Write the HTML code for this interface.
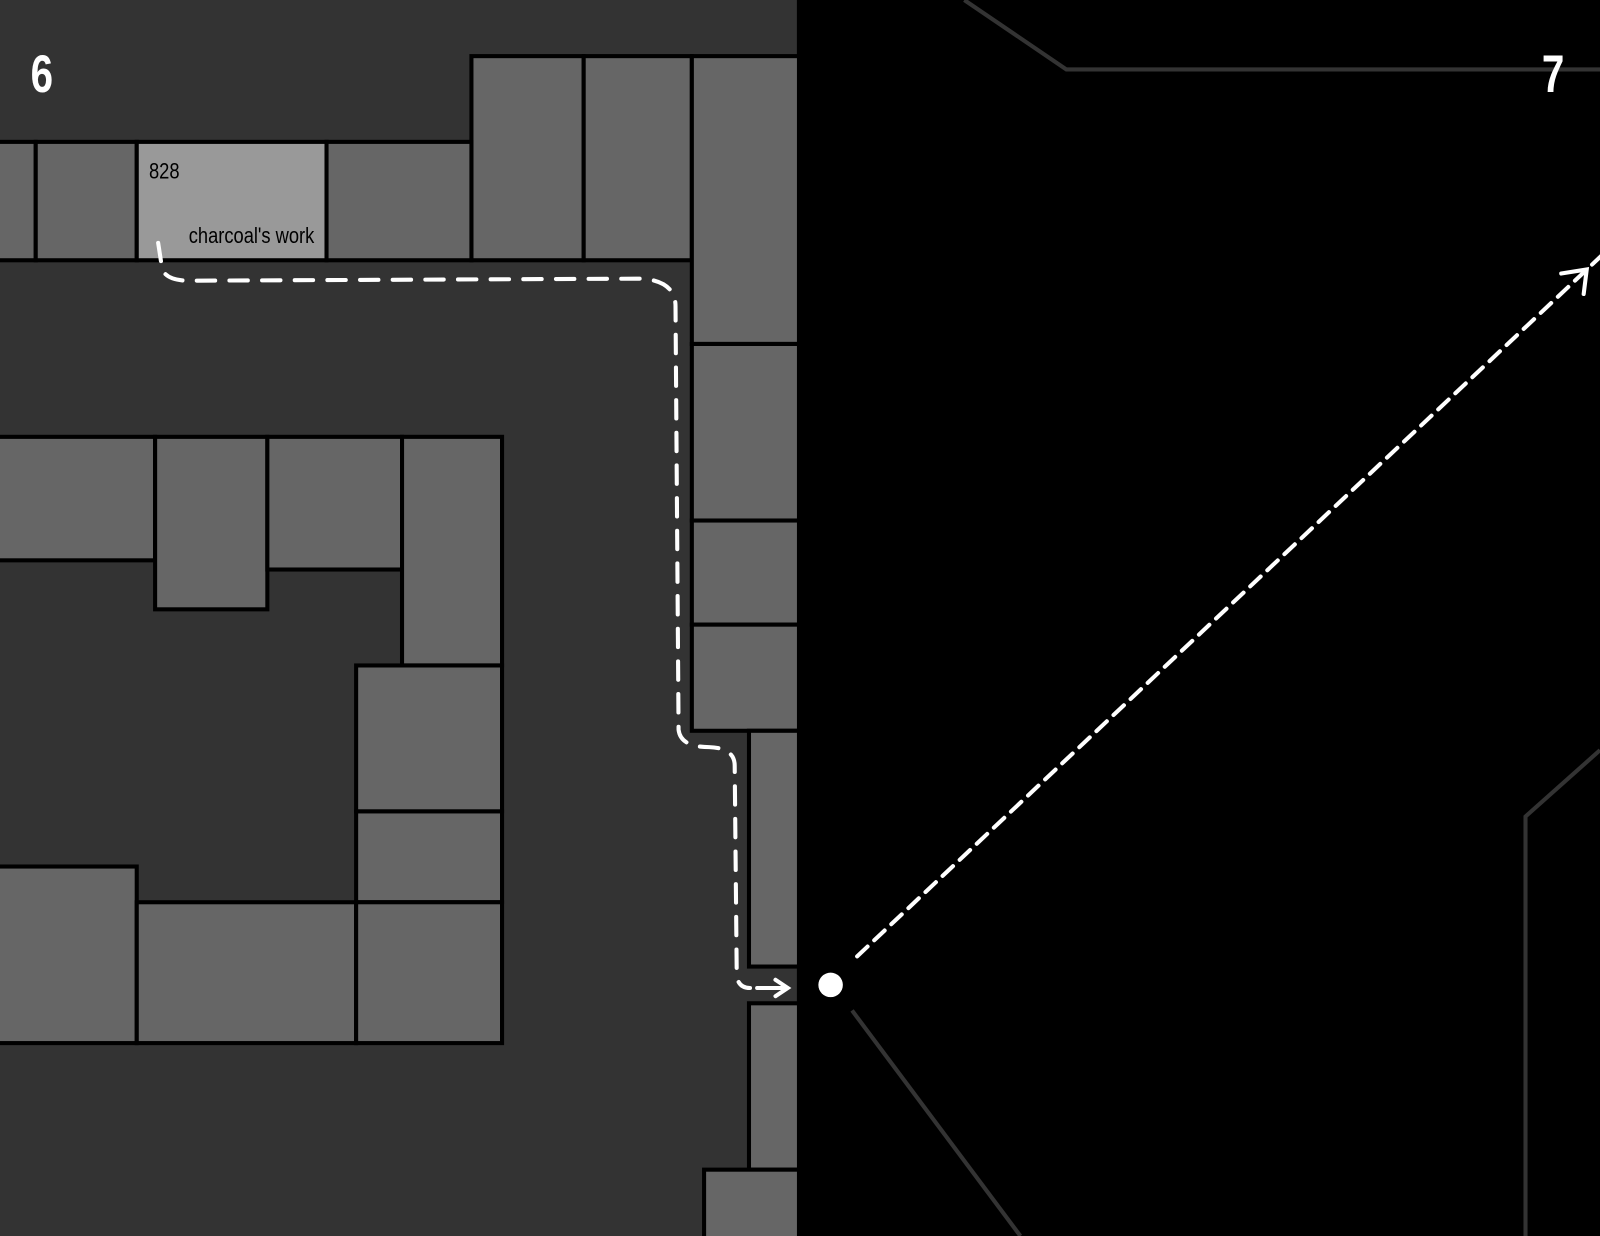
<!DOCTYPE html>
<html><head><meta charset="utf-8"><style>
html,body{margin:0;padding:0;background:#000;}
svg{display:block;}
</style></head><body>
<svg width="1600" height="1236" viewBox="0 0 1568 1211" preserveAspectRatio="none" xmlns="http://www.w3.org/2000/svg">
<rect x="0" y="0" width="1568" height="1211" fill="#000"/>
<rect x="0" y="0" width="781" height="1211" fill="#333"/>
<g fill="#666" stroke="#000" stroke-width="4">
<rect x="462" y="55" width="110" height="200"/>
<rect x="572" y="55" width="106" height="200"/>
<rect x="678" y="55" width="106" height="282"/>
<rect x="678" y="337" width="106" height="173"/>
<rect x="678" y="510" width="106" height="102"/>
<rect x="678" y="612" width="106" height="104"/>
<rect x="734" y="716" width="50" height="231"/>
<rect x="734" y="983" width="50" height="163"/>
<rect x="690" y="1146" width="94" height="70"/>
<rect x="-5" y="139" width="40" height="116"/>
<rect x="35" y="139" width="99" height="116"/>
<rect x="134" y="139" width="186" height="116" fill="#999"/>
<rect x="320" y="139" width="142" height="116"/>
<rect x="-5" y="428" width="157" height="121"/>
<rect x="152" y="428" width="110" height="169"/>
<rect x="262" y="428" width="132" height="130"/>
<rect x="394" y="428" width="98" height="224"/>
<rect x="349" y="652" width="143" height="143"/>
<rect x="349" y="795" width="143" height="89"/>
<rect x="-5" y="849" width="139" height="173"/>
<rect x="134" y="884" width="215" height="138"/>
<rect x="349" y="884" width="143" height="138"/>
</g>
<rect x="781" y="0" width="787" height="1211" fill="#000"/>
<g stroke="#333" stroke-width="4" fill="none">
<polyline points="945,0 1045,68 1568,68"/>
<polyline points="1568,735 1495,800 1495,1211"/>
<line x1="835" y1="990" x2="1000" y2="1211"/>
</g>
<g font-family="'Liberation Sans Narrow','Liberation Sans',sans-serif">
<text x="30" y="90" fill="#fff" font-size="52" font-weight="bold" textLength="22" lengthAdjust="spacingAndGlyphs">6</text>
<text x="1511" y="90" fill="#fff" font-size="52" font-weight="bold" textLength="22" lengthAdjust="spacingAndGlyphs">7</text>
<text x="146" y="175" fill="#000" font-size="22" textLength="30" lengthAdjust="spacingAndGlyphs">828</text>
<text x="185" y="238" fill="#000" font-size="22" textLength="123" lengthAdjust="spacingAndGlyphs">charcoal's work</text>
</g>
<g stroke="#fff" stroke-width="4" fill="none" stroke-linecap="round">
<path d="M155,238 L159,264 Q164,276 190,275 L630,273 Q662,276 662,300 L665,715 Q667,732 695,732 Q720,733 720,750 L722,955 Q723,968 735,968" stroke-dasharray="18,14"/>
<path d="M742,968 L770,968 M760,960 L772,968 L760,976"/>
<line x1="840" y1="937" x2="1570" y2="250" stroke-dasharray="14,9"/>
<path d="M1530,268 L1555,264 L1552,288"/>
</g>
<circle cx="814" cy="965" r="12" fill="#fff"/>
</svg>
</body></html>
